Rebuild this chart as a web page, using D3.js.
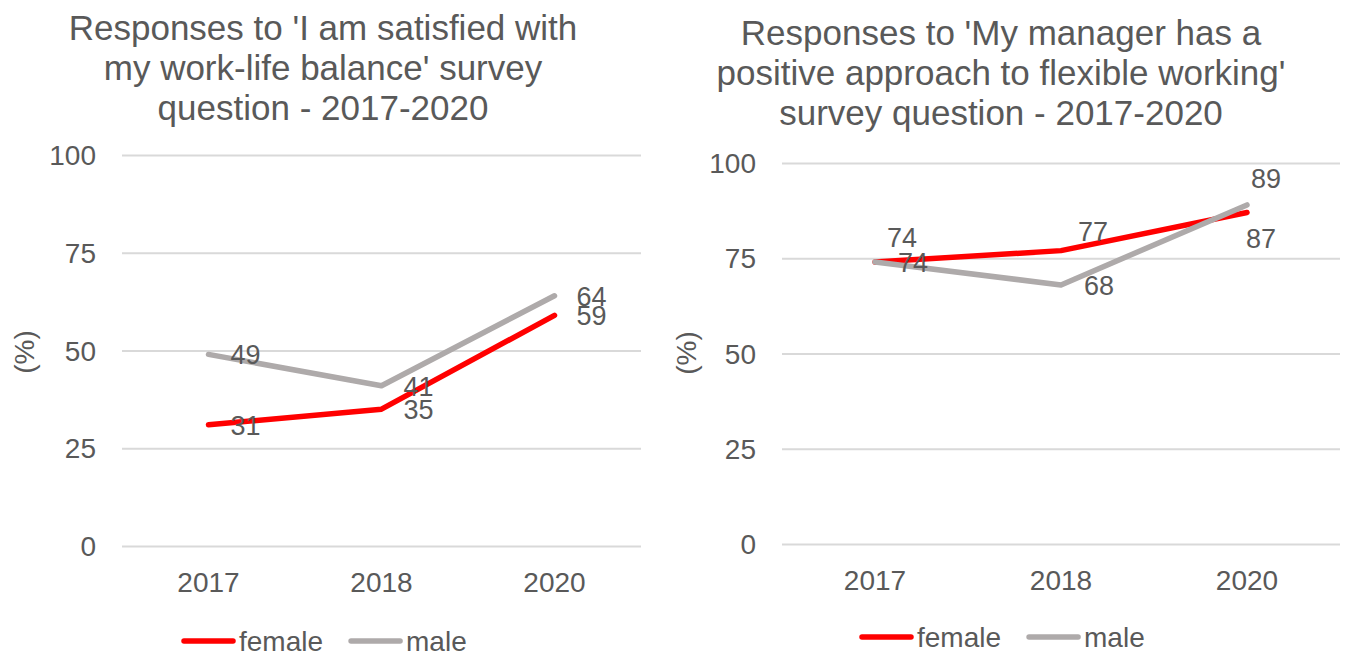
<!DOCTYPE html>
<html>
<head>
<meta charset="utf-8">
<script src="https://cdn.jsdelivr.net/npm/d3@7"></script>
<style>
  body { margin: 0; background: #fff; }
  svg text { font-family: "Liberation Sans", Arial, sans-serif; fill: #595959; }
</style>
</head>
<body>
<div id="vis"></div>
<script>
const years = ["2017", "2018", "2020"];
const seriesNames = ["female", "male"];
const balanceFemale = [31, 35, 59];
const balanceMale = [49, 41, 64];
const flexFemale = [74, 77, 87];
const flexMale = [74, 68, 89];
const yTicks = [0, 25, 50, 75, 100];
const balanceTitle = ["Responses to 'I am satisfied with", "my work-life balance' survey", "question - 2017-2020"];
const flexTitle = ["Responses to 'My manager has a", "positive approach to flexible working'", "survey question - 2017-2020"];
const yLabel = "(%)";

const colors = { female: "#ff0000", male: "#aeaaaa" };

const svg = d3.select("#vis")
  .append("svg")
  .attr("width", 1345)
  .attr("height", 654);

function drawChart(cfg) {
  const g = svg.append("g");

  const x = d3.scaleBand()
    .domain(years)
    .range([cfg.left, cfg.right]);

  const y = d3.scaleLinear()
    .domain([0, 100])
    .range([cfg.bottom, cfg.top]);

  // title
  g.append("g")
    .selectAll("text")
    .data(cfg.title)
    .enter()
    .append("text")
    .attr("x", cfg.titleX)
    .attr("y", (d, i) => cfg.titleY + i * 40)
    .attr("text-anchor", "middle")
    .attr("dominant-baseline", "central")
    .attr("font-size", 35)
    .text(d => d);

  // gridlines
  const grid = g.append("g")
    .call(d3.axisLeft(y).tickValues(yTicks).tickSize(-(cfg.right - cfg.left)).tickFormat(""))
    .attr("transform", `translate(${cfg.left},0)`);
  grid.select(".domain").remove();
  grid.selectAll("line").attr("stroke", "#d9d9d9").attr("stroke-width", 2);

  // y labels
  const yAxis = g.append("g")
    .attr("transform", `translate(${cfg.yTickX},0)`)
    .call(d3.axisLeft(y).tickValues(yTicks).tickSize(0).tickPadding(0));
  yAxis.select(".domain").remove();
  yAxis.selectAll("text")
    .attr("font-size", 28)
    .attr("font-family", null)
    .attr("dy", null)
    .attr("dominant-baseline", "central");
  yAxis.attr("font-family", null).attr("font-size", null);

  // x labels
  const xAxis = g.append("g")
    .attr("transform", `translate(0,${cfg.xTickY})`)
    .call(d3.axisBottom(x).tickSize(0).tickPadding(0));
  xAxis.select(".domain").remove();
  xAxis.attr("font-family", null).attr("font-size", null);
  xAxis.selectAll("text")
    .attr("font-size", 28)
    .attr("dy", null)
    .attr("dominant-baseline", "central");

  g.append("text")
    .attr("transform", `translate(${cfg.yLabelX},${cfg.yLabelY}) rotate(-90)`)
    .attr("text-anchor", "middle")
    .attr("dominant-baseline", "central")
    .attr("font-size", 28)
    .text(yLabel);

  const cx = d => x(d) + x.bandwidth() / 2;
  const series = [
    { name: "female", values: cfg.female, offsets: cfg.femaleLabels },
    { name: "male", values: cfg.male, offsets: cfg.maleLabels }
  ];

  const line = d3.line()
    .x((d, i) => cx(years[i]))
    .y(d => y(d));

  g.selectAll(".series")
    .data(series)
    .enter()
    .append("path")
    .attr("class", "series")
    .attr("d", d => line(d.values))
    .attr("fill", "none")
    .attr("stroke", d => colors[d.name])
    .attr("stroke-width", 5.5)
    .attr("stroke-linejoin", "round")
    .attr("stroke-linecap", "round");

  series.forEach(s => {
    g.append("g")
      .selectAll("text")
      .data(s.values)
      .enter()
      .append("text")
      .attr("x", (d, i) => cx(years[i]) + s.offsets[i][0])
      .attr("y", (d, i) => y(d) + s.offsets[i][1])
      .attr("text-anchor", (d, i) => s.offsets[i][2] || "start")
      .attr("dominant-baseline", "central")
      .attr("font-size", 27)
      .text(d => d);
  });

  // legend
  const legend = g.append("g").attr("transform", `translate(${cfg.legendX},${cfg.legendY})`);
  let lx = 0;
  seriesNames.forEach(name => {
    legend.append("line")
      .attr("x1", lx + 3).attr("x2", lx + 52)
      .attr("y1", 0).attr("y2", 0)
      .attr("stroke", colors[name])
      .attr("stroke-width", 5.5)
      .attr("stroke-linecap", "round");
    const t = legend.append("text")
      .attr("x", lx + 58)
      .attr("y", 0)
      .attr("dominant-baseline", "central")
      .attr("font-size", 28)
      .text(name);
    lx += 58 + t.node().getComputedTextLength() + 25;
  });
}

drawChart({
  title: balanceTitle, titleX: 323, titleY: 27,
  left: 122, right: 641, top: 155, bottom: 546,
  yTickX: 96, xTickY: 582, yLabelX: 24, yLabelY: 352,
  female: balanceFemale, male: balanceMale,
  femaleLabels: [[22, 1], [22, 1], [22, 1]],
  maleLabels: [[22, 1], [22, 1], [22, 1]],
  legendX: 181, legendY: 641
});

drawChart({
  title: flexTitle, titleX: 1001, titleY: 32,
  left: 782, right: 1340, top: 163, bottom: 544,
  yTickX: 756, xTickY: 580, yLabelX: 686, yLabelY: 353,
  female: flexFemale, male: flexMale,
  femaleLabels: [[27, -24, "middle"], [32, -19, "middle"], [14, 26, "middle"]],
  maleLabels: [[23, 1], [23, 1], [19, -26, "middle"]],
  legendX: 859, legendY: 637
});
</script>
</body>
</html>
